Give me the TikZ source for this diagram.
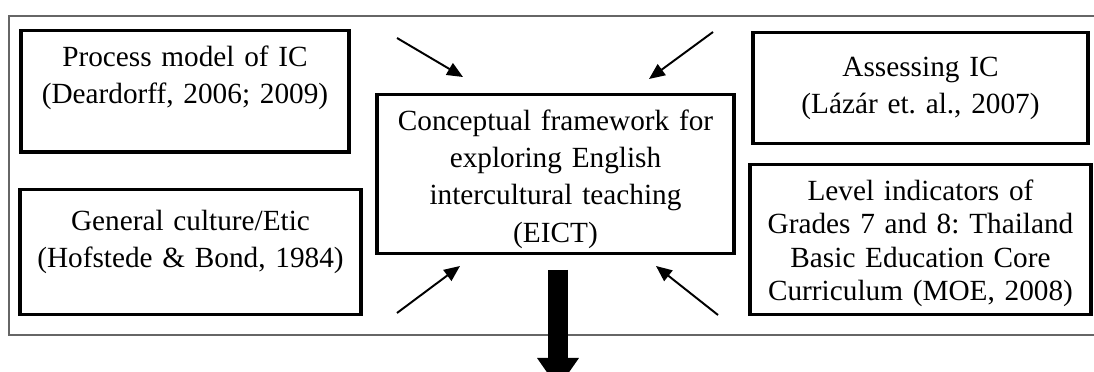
\documentclass[tikz,border=0pt]{standalone}
\usepackage{fontspec}
\setmainfont{Liberation Serif}
\frenchspacing
\usetikzlibrary{arrows.meta}

\begin{document}
\begin{tikzpicture}[x=0.41pt,y=-0.41pt,
	box/.style={rectangle, draw=black, line width=1.4pt, align=center, inner xsep=0pt, inner ysep=0pt, anchor=north, font=\fontsize{12}{15.2}\selectfont},
	frame/.style={draw=black!60, line width=0.6pt},
	inarrow/.style={black, line width=0.8pt, -{Triangle[length=6.5pt,width=5.5pt]}},
	outarrow/.style={black, line width=8.2pt, -{Triangle[length=12.3pt,width=17.2pt,line width=0pt]}}]
	
	\clip (0,0) rectangle (1094,372);
	\draw[frame] (9,16) rectangle (1110,335);
	
	%Nodes
	\node[box, text width=134.5pt, text height=14.8pt, text depth=34.9pt]	(proc)	at (185,29) {Process model of IC\\(Deardorff, 2006; 2009)};
	\node[box, text width=139.8pt, text height=16.8pt, text depth=34.4pt]	(gen)	at (190.5,188) {General culture/Etic\\(Hofstede \& Bond, 1984)};
	\node[box, text width=146.4pt, text height=14.8pt, text depth=50.4pt]	(eict)	at (555.5,93) {Conceptual framework for\\exploring English\\intercultural teaching\\(EICT)};
	\node[box, text width=137.4pt, text height=18.0pt, text depth=27.5pt]	(assess)	at (920.5,31) {Assessing IC\\(Lázár et. al., 2007)};
	\node[box, text width=139.8pt, text height=14.8pt, text depth=46.7pt, font=\fontsize{12}{13.6}\selectfont]	(level)	at (920.5,163) {Level indicators of\\Grades 7 and 8: Thailand\\Basic Education Core\\Curriculum (MOE, 2008)};
	
	\coordinate (pfrom) at (397,38);	\coordinate (pto) at (463,77);
	\coordinate (afrom) at (713,32);	\coordinate (ato) at (649,79);
	\coordinate (gfrom) at (397,313);	\coordinate (gto) at (460,266);
	\coordinate (lfrom) at (718,315);	\coordinate (lto) at (656,266);
	\coordinate (ofrom) at (558,270);	\coordinate (oto) at (558,388);
	
	%Lines
	\draw[inarrow] (pfrom) -- (pto);
	\draw[inarrow] (afrom) -- (ato);
	\draw[inarrow] (gfrom) -- (gto);
	\draw[inarrow] (lfrom) -- (lto);
	\draw[outarrow] (ofrom) -- (oto);
\end{tikzpicture}
\end{document}
